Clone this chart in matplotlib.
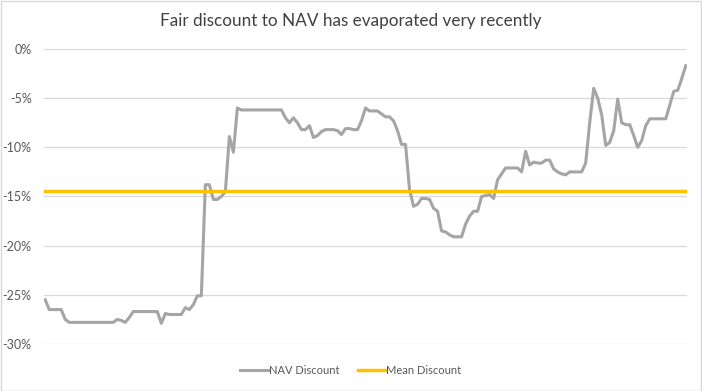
import matplotlib.pyplot as plt
import numpy as np
from matplotlib.ticker import FuncFormatter
from matplotlib.patches import Rectangle

plt.rcParams['font.family'] = ['Lato', 'DejaVu Sans']

title = "Fair discount to NAV has evaporated very recently"

# NAV discount (%) at even steps
nav_discount = [
    -25.5, -26.5, -26.5, -26.5, -26.5, -27.5, -27.8, -27.8, -27.8, -27.8,
    -27.8, -27.8, -27.8, -27.8, -27.8, -27.8, -27.8, -27.8, -27.5, -27.6,
    -27.8, -27.3, -26.7, -26.7, -26.7, -26.7, -26.7, -26.7, -26.7, -27.9,
    -26.9, -27.0, -27.0, -27.0, -27.0, -26.3, -26.5, -26.0, -25.1, -25.1,
    -13.8, -13.8, -15.3, -15.3, -15.0, -14.5, -8.9, -10.5, -6.0, -6.2,
    -6.2, -6.2, -6.2, -6.2, -6.2, -6.2, -6.2, -6.2, -6.2, -6.2,
    -7.0, -7.5, -7.0, -7.5, -8.2, -8.2, -7.8, -9.0, -8.8, -8.4,
    -8.2, -8.2, -8.2, -8.3, -8.7, -8.1, -8.1, -8.2, -8.2, -7.3,
    -6.0, -6.3, -6.3, -6.3, -6.6, -6.9, -6.9, -7.3, -8.3, -9.7,
    -9.7, -14.3, -16.0, -15.8, -15.2, -15.2, -15.3, -16.2, -16.5, -18.5,
    -18.6, -18.9, -19.1, -19.1, -19.1, -17.8, -17.0, -16.5, -16.5, -15.0,
    -14.9, -14.8, -15.2, -13.3, -12.7, -12.1, -12.1, -12.1, -12.1, -12.5,
    -10.4, -11.8, -11.5, -11.6, -11.6, -11.3, -11.3, -12.2, -12.5, -12.7,
    -12.8, -12.5, -12.5, -12.5, -12.5, -11.6, -7.5, -4.0, -5.0, -6.7,
    -9.8, -9.5, -8.3, -5.1, -7.5, -7.7, -7.7, -8.8, -10.0, -9.3,
    -7.8, -7.1, -7.1, -7.1, -7.1, -7.1, -5.7, -4.3, -4.2, -3.0,
    -1.7,
]
mean_discount = -14.4
yticks = [0, -5, -10, -15, -20, -25, -30]

x = np.arange(len(nav_discount))

fig = plt.figure(figsize=(7.02, 3.91), dpi=100)
ax = fig.add_axes([0.0627, 0.1202, 0.9159, 0.7545])

ax.plot(x, nav_discount, color='#a5a5a5', lw=2.2, label='NAV Discount', solid_joinstyle='round')
ax.plot(x, [mean_discount] * len(x), color='#ffc000', lw=2.5, label='Mean Discount')

ax.set_ylim(-30, 0)
ax.set_xlim(-0.3, len(x) - 0.7)
ax.set_yticks(yticks)
ax.yaxis.set_major_formatter(FuncFormatter(lambda v, p: "{:.0f}%".format(v) if v != 0 else "0%"))
ax.set_xticks([])
ax.tick_params(axis='y', length=0, pad=9, labelsize=9, labelcolor='#595959')
ax.grid(axis='y', color='#d9d9d9', lw=0.9)
ax.set_axisbelow(True)
for s in ax.spines.values():
    s.set_visible(False)

fig.text(0.5, 0.946, title, ha='center', va='center', fontsize=12.3, color='#404040')

ax.legend(loc='center', bbox_to_anchor=(0.5, 1 - 370 / 391), bbox_transform=fig.transFigure,
          ncol=2, frameon=False, fontsize=8, handlelength=2.5, handletextpad=0.1,
          columnspacing=1.6, labelcolor='#595959')

fig.patches.append(Rectangle((0.001, 0.001), 0.997, 0.997, transform=fig.transFigure,
                             fill=False, edgecolor='#d9d9d9', lw=1))

plt.savefig('out.png', dpi=100)
